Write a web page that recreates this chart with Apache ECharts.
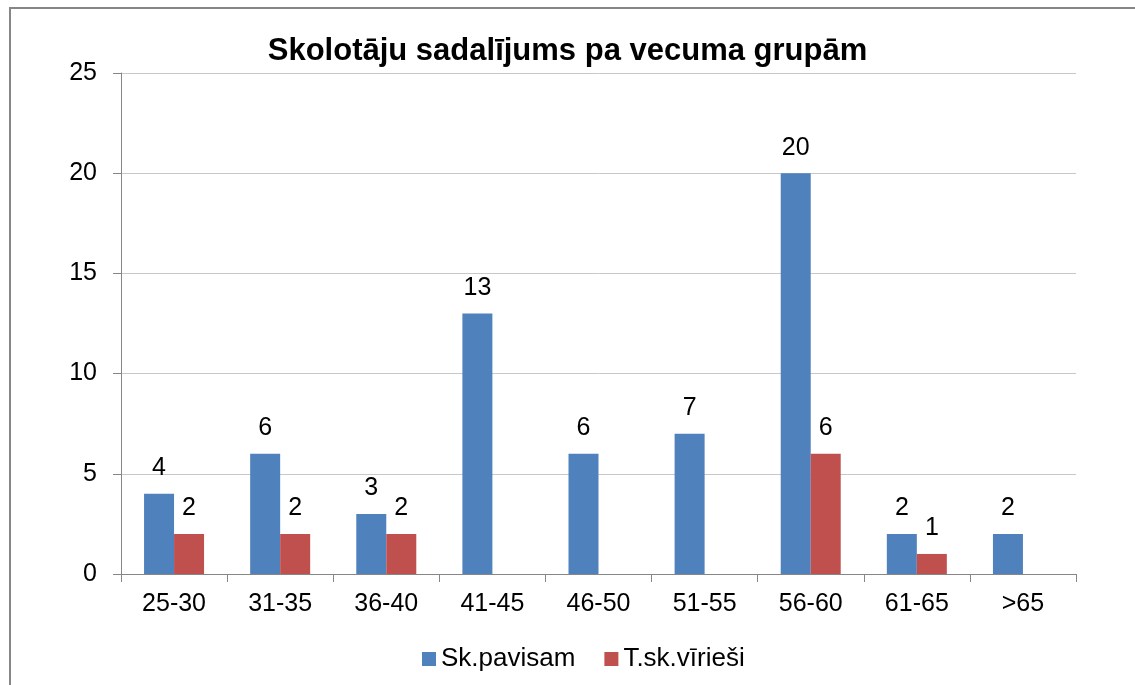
<!DOCTYPE html>
<html>
<head>
<meta charset="utf-8">
<script src="https://cdn.jsdelivr.net/npm/echarts@6/dist/echarts.min.js"></script>
<style>
  html, body { margin: 0; padding: 0; background: #fff; }
  #main { width: 1135px; height: 685px; }
</style>
</head>
<body>
<div id="main"></div>
<script>
// vecuma grupas
const categories = ['25-30', '31-35', '36-40', '41-45', '46-50', '51-55', '56-60', '61-65', '>65'];
const totalValues = [4, 6, 3, 13, 6, 7, 20, 2, 2];
const maleValues = [2, 2, 2, null, null, null, 6, 1, null];
const yTicks = { min: 0, max: 25, interval: 5 };

const chart = echarts.init(document.getElementById('main'));

const font = 'Liberation Sans, Arial, sans-serif';
const labelStyle = { show: true, position: 'top', color: '#000', fontSize: 25, fontFamily: font, distance: 13 };

const option = {
  animation: false,
  backgroundColor: '#fff',
  title: {
    text: 'Skolotāju sadalījums pa vecuma grupām',
    left: 'center',
    top: 31,
    textStyle: { fontFamily: font, fontSize: 31, fontWeight: 'bold', color: '#000' }
  },
  legend: {
    top: 641,
    left: 417,
    itemWidth: 14,
    itemHeight: 14,
    itemGap: 29,
    icon: 'rect',
    textStyle: { fontFamily: font, fontSize: 26, color: '#000', padding: [0, 0, 0, 0] },
    data: ['Sk.pavisam', 'T.sk.vīrieši']
  },
  grid: { left: 121, right: 59, top: 73, bottom: 111 },
  xAxis: {
    type: 'category',
    data: categories,
    axisLine: { lineStyle: { color: '#868686', width: 1 } },
    axisTick: { show: true, length: 8, lineStyle: { color: '#868686' } },
    axisLabel: { color: '#000', fontSize: 25, fontFamily: font, margin: 18 }
  },
  yAxis: {
    type: 'value',
    min: yTicks.min,
    max: yTicks.max,
    interval: yTicks.interval,
    axisLine: { show: true, lineStyle: { color: '#868686', width: 1 } },
    axisTick: { show: true, length: 8, lineStyle: { color: '#868686' } },
    axisLabel: { color: '#000', fontSize: 25, fontFamily: font, margin: 24 },
    splitLine: { lineStyle: { color: '#c8c8c8', width: 1 } }
  },
  series: [
    {
      name: 'Sk.pavisam',
      type: 'bar',
      data: totalValues,
      barWidth: 30,
      barGap: '0%',
      itemStyle: { color: '#4F81BD' },
      label: labelStyle
    },
    {
      name: 'T.sk.vīrieši',
      type: 'bar',
      data: maleValues,
      barWidth: 30,
      barGap: '0%',
      itemStyle: { color: '#C0504D' },
      label: labelStyle
    }
  ],
  graphic: [
    {
      type: 'rect',
      shape: { x: 10, y: 8, width: 1140, height: 700 },
      style: { fill: 'none', stroke: '#868686', lineWidth: 2 },
      silent: true
    }
  ]
};

chart.setOption(option);
</script>
</body>
</html>
